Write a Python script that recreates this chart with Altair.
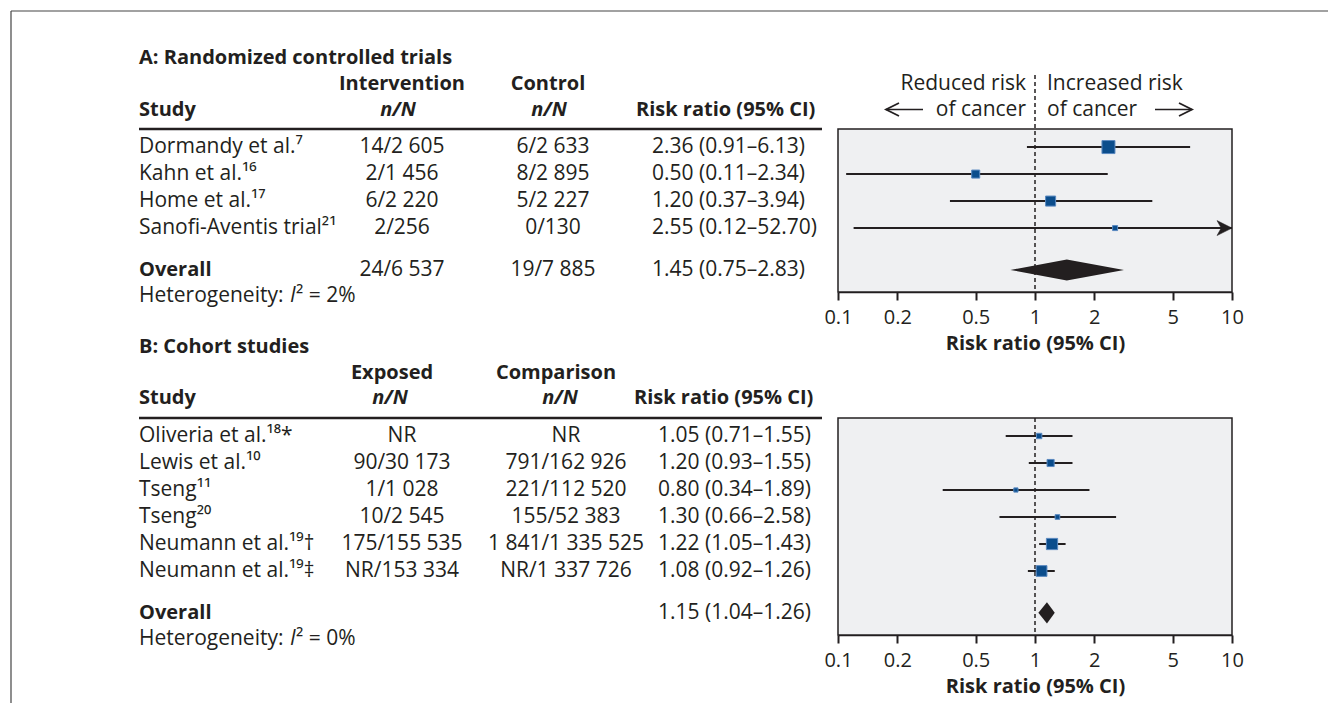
import altair as alt
import pandas as pd

# ---------------- data ----------------
rct_studies = ["Dormandy et al.⁷", "Kahn et al.¹⁶", "Home et al.¹⁷", "Sanofi-Aventis trial²¹"]
rct_intervention = ["14/2 605", "2/1 456", "6/2 220", "2/256"]
rct_control = ["6/2 633", "8/2 895", "5/2 227", "0/130"]
rct_rr = [2.36, 0.50, 1.20, 2.55]
rct_lo = [0.91, 0.11, 0.37, 0.12]
rct_hi = [6.13, 2.34, 3.94, 52.70]
rct_weight = [47, 18, 28, 7]
rct_overall_counts = ["24/6 537", "19/7 885"]
rct_overall = [1.45, 0.75, 2.83]
rct_i2 = "2%"

coh_studies = ["Oliveria et al.¹⁸*", "Lewis et al.¹⁰", "Tseng¹¹", "Tseng²⁰",
               "Neumann et al.¹⁹†", "Neumann et al.¹⁹‡"]
coh_exposed = ["NR", "90/30 173", "1/1 028", "10/2 545", "175/155 535", "NR/153 334"]
coh_comparison = ["NR", "791/162 926", "221/112 520", "155/52 383",
                  "1 841/1 335 525", "NR/1 337 726"]
coh_rr = [1.05, 1.20, 0.80, 1.30, 1.22, 1.08]
coh_lo = [0.71, 0.93, 0.34, 0.66, 1.05, 0.92]
coh_hi = [1.55, 1.55, 1.89, 2.58, 1.43, 1.26]
coh_weight = [8, 14, 5, 6, 35, 32]
coh_overall_counts = ["", ""]
coh_overall = [1.15, 1.04, 1.26]
coh_i2 = "0%"

axis_ticks = [0.1, 0.2, 0.5, 1, 2, 5, 10]
NULL_VALUE = 1

# ---------------- style / layout ----------------
FONT = "Open Sans"
TXT = "#231f20"
BLUE = "#0b4d8c"
BLUE_EDGE = "#5a89c0"
BOX_FILL = "#eff0f2"
FS = 20        # bold headings
FS_REG = 21    # regular body text
ROW_PX = 27
TITLE_OFF, H1_OFF, H2_OFF, LINE_OFF = -3.3, -2.35, -1.39, -0.67
OVERALL_GAP, HET_GAP, BOTTOM_GAP = 1.55, 0.95, 0.82
PANEL_GAP = 5.33
ROW_TOP = -5.15
DIAMOND_HALF = 0.39
W = 1320
X_RANGE = [830, 1224]
STUDY_X = 131
LINE_X2 = 814

A_rows = [float(i) for i in range(len(rct_studies))]
A_overall = A_rows[-1] + OVERALL_GAP
A_bottom = A_overall + BOTTOM_GAP
rB0 = A_bottom + PANEL_GAP
B_rows = [rB0 + i for i in range(len(coh_studies))]
B_overall = B_rows[-1] + OVERALL_GAP
B_bottom = B_overall + BOTTOM_GAP
H = round((B_bottom - ROW_TOP) * ROW_PX)

yscale = alt.Scale(domain=[ROW_TOP, B_bottom], reverse=True, nice=False, zero=False)


def Y(f="row"):
    return alt.Y(f + ":Q", scale=yscale, axis=None)


def Y2(f):
    return alt.Y2(f + ":Q")


def make_axis(offset=0):
    kw = dict(values=axis_ticks, format="~g", title="Risk ratio (95% CI)", orient="bottom",
              grid=False, domainColor=TXT, domainWidth=1.5, tickColor=TXT, tickWidth=2,
              tickSize=8, labelFont=FONT, labelFontSize=FS, labelColor=TXT, labelPadding=7,
              labelFlush=False, titleFont=FONT, titleFontSize=FS, titleFontWeight="bold",
              titleColor=TXT, titlePadding=6)
    if offset:
        kw["offset"] = offset
    return alt.Axis(**kw)


def XS(field, axis):
    return alt.X(field + ":Q",
                 scale=alt.Scale(type="log", domain=[axis_ticks[0], axis_ticks[-1]], range=X_RANGE),
                 axis=axis)


def text_layer(df, x, align="left", weight="normal", style="normal", dx=0, field="t", size=None):
    if size is None:
        size = FS if weight == "bold" else FS_REG
    return alt.Chart(df).mark_text(align=align, baseline="middle", font=FONT, fontSize=size,
                                   color=TXT, fontWeight=weight, fontStyle=style, dx=dx
                                   ).encode(x=x, y=Y(), text=field + ":N")


def one(t, row):
    return pd.DataFrame({"t": [t], "row": [row]})


def panel(title, hdr1, hdr2, studies, c1, c2, rr, lo, hi, wt, ov_counts, ov, i2,
          rows, r_over, r_bottom, axis, cols, annotate):
    r0 = rows[0]
    line_row = r0 + LINE_OFF
    df = pd.DataFrame({"row": rows, "study": studies, "c1": c1, "c2": c2, "rr": rr,
                       "lo": lo, "hi": hi, "w": wt})
    df["label"] = [f"{a:.2f} ({b:.2f}–{c:.2f})" for a, b, c in zip(rr, lo, hi)]
    df["hic"] = [min(h, axis_ticks[-1]) for h in hi]
    df["xe"] = axis_ticks[-1]

    layers = []
    # gray plot box
    box = pd.DataFrame({"x0": [axis_ticks[0]], "x1": [axis_ticks[-1]],
                        "y0": [line_row], "y1": [r_bottom]})
    layers.append(alt.Chart(box).mark_rect(fill=BOX_FILL, stroke=TXT, strokeWidth=1.5)
                  .encode(x=XS("x0", axis), x2="x1:Q", y=Y("y0"), y2=Y2("y1")))
    # dashed null line
    top = r0 + (-2.67 if annotate else LINE_OFF)
    nl = pd.DataFrame({"x": [NULL_VALUE], "y0": [top], "y1": [r_bottom]})
    layers.append(alt.Chart(nl).mark_rule(color=TXT, strokeWidth=1.5, strokeDash=[4, 3])
                  .encode(x=XS("x", axis), y=Y("y0"), y2=Y2("y1")))
    # CI lines
    layers.append(alt.Chart(df).mark_rule(color=TXT, strokeWidth=2)
                  .encode(x=XS("lo", axis), x2="hic:Q", y=Y()))
    # truncated CI arrow
    layers.append(alt.Chart(df).transform_filter(f"datum.hi > {axis_ticks[-1]}")
                  .mark_point(shape="M-1,-0.5L0,0L-1,0.5L-0.72,0Z", filled=True, fill=TXT,
                              stroke=TXT, strokeWidth=0.5, size=900, opacity=1)
                  .encode(x=XS("xe", axis), y=Y()))
    # squares
    layers.append(alt.Chart(df).mark_square(color=BLUE, stroke=BLUE_EDGE, strokeWidth=1, opacity=1)
                  .encode(x=XS("rr", axis), y=Y(),
                          size=alt.Size("w:Q", scale=alt.Scale(domain=[0, 50], range=[0, 180]),
                                        legend=None)))
    # diamond
    dm = pd.DataFrame({"x": [ov[1], ov[0], ov[2]],
                       "ya": [r_over, r_over - DIAMOND_HALF, r_over],
                       "yb": [r_over, r_over + DIAMOND_HALF, r_over]})
    layers.append(alt.Chart(dm).mark_area(color=TXT, orient="vertical", opacity=1)
                  .encode(x=XS("x", axis), y=Y("ya"), y2=Y2("yb")))

    # ---- table text ----
    layers.append(text_layer(one(title, r0 + TITLE_OFF), alt.value(STUDY_X), weight="bold"))
    layers.append(text_layer(one(hdr1, r0 + H1_OFF), alt.value(cols["c1h"]), "center", "bold"))
    layers.append(text_layer(one(hdr2, r0 + H1_OFF), alt.value(cols["c2h"]), "center", "bold"))
    layers.append(text_layer(one("Study", r0 + H2_OFF), alt.value(STUDY_X), weight="bold"))
    layers.append(text_layer(one("n/N", r0 + H2_OFF), alt.value(cols["c1n"]), "center", "bold", "italic"))
    layers.append(text_layer(one("n/N", r0 + H2_OFF), alt.value(cols["c2n"]), "center", "bold", "italic"))
    layers.append(text_layer(one("Risk ratio (95% CI)", r0 + H2_OFF), alt.value(cols["rrh"]), weight="bold"))
    hl = pd.DataFrame({"row": [line_row]})
    layers.append(alt.Chart(hl).mark_rule(color=TXT, strokeWidth=2.5)
                  .encode(x=alt.value(STUDY_X), x2=alt.value(LINE_X2), y=Y()))
    layers.append(text_layer(df, alt.value(STUDY_X), field="study"))
    layers.append(text_layer(df, alt.value(cols["c1v"]), "center", field="c1"))
    layers.append(text_layer(df, alt.value(cols["c2v"]), "center", field="c2"))
    layers.append(text_layer(df, alt.value(cols["rrv"]), field="label"))
    # overall row
    layers.append(text_layer(one("Overall", r_over), alt.value(STUDY_X), weight="bold"))
    if ov_counts[0]:
        layers.append(text_layer(one(ov_counts[0], r_over), alt.value(cols["c1v"]), "center"))
        layers.append(text_layer(one(ov_counts[1], r_over), alt.value(cols["c2v"]), "center"))
    layers.append(text_layer(one(f"{ov[0]:.2f} ({ov[1]:.2f}–{ov[2]:.2f})", r_over),
                             alt.value(cols["rrv"])))
    r_het = r_over + HET_GAP
    layers.append(text_layer(one("Heterogeneity:", r_het), alt.value(STUDY_X)))
    layers.append(text_layer(one("I", r_het), alt.value(STUDY_X + 151), style="italic"))
    layers.append(text_layer(one("² = " + i2, r_het), alt.value(STUDY_X + 157)))

    if annotate:
        ann = pd.DataFrame({"x": [NULL_VALUE, NULL_VALUE], "row": [r0 + H1_OFF, r0 + H2_OFF],
                            "t": ["Reduced risk", "of cancer"]})
        ann2 = pd.DataFrame({"x": [NULL_VALUE, NULL_VALUE], "row": [r0 + H1_OFF, r0 + H2_OFF],
                             "t": ["Increased risk", "of cancer"]})
        layers.append(text_layer(ann, XS("x", axis), "right", dx=-9))
        layers.append(text_layer(ann2, XS("x", axis), "left", dx=12))
        ar = pd.DataFrame({"row": [r0 + H2_OFF]})
        layers.append(alt.Chart(ar).mark_rule(color=TXT, strokeWidth=1.6)
                      .encode(x=alt.value(878), x2=alt.value(915), y=Y()))
        layers.append(alt.Chart(ar).mark_rule(color=TXT, strokeWidth=1.6)
                      .encode(x=alt.value(1147), x2=alt.value(1184), y=Y()))
        layers.append(alt.Chart(ar).mark_point(shape="M1,-0.5L0,0L1,0.5", filled=False, stroke=TXT,
                                               strokeWidth=1.8, size=676, opacity=1)
                      .encode(x=alt.value(878), y=Y()))
        layers.append(alt.Chart(ar).mark_point(shape="M-1,-0.5L0,0L-1,0.5", filled=False, stroke=TXT,
                                               strokeWidth=1.8, size=676, opacity=1)
                      .encode(x=alt.value(1184), y=Y()))
    return alt.layer(*layers)


cols_a = {"c1h": 394, "c1n": 390, "c1v": 394, "c2h": 540, "c2n": 541, "c2v": 545,
          "rrh": 628, "rrv": 644}
cols_b = {"c1h": 384, "c1n": 382, "c1v": 394, "c2h": 548, "c2n": 552, "c2v": 558,
          "rrh": 626, "rrv": 650}

A_axis_offset = -round((B_bottom - A_bottom) * ROW_PX)

panel_a = panel("A: Randomized controlled trials", "Intervention", "Control",
                rct_studies, rct_intervention, rct_control, rct_rr, rct_lo, rct_hi, rct_weight,
                rct_overall_counts, rct_overall, rct_i2, A_rows, A_overall, A_bottom,
                make_axis(A_axis_offset), cols_a, True)
panel_b = panel("B: Cohort studies", "Exposed", "Comparison",
                coh_studies, coh_exposed, coh_comparison, coh_rr, coh_lo, coh_hi, coh_weight,
                coh_overall_counts, coh_overall, coh_i2, B_rows, B_overall, B_bottom,
                make_axis(), cols_b, False)

frame = alt.Chart(pd.DataFrame({"k": [0]})).mark_rule(color="#444444", strokeWidth=1.2).encode(
    x=alt.value(3), x2=alt.value(W), y=alt.value(3))
frame_l = alt.Chart(pd.DataFrame({"k": [0]})).mark_rule(color="#444444", strokeWidth=1.2).encode(
    x=alt.value(3), y=alt.value(3), y2=alt.value(H + 68))

chart = alt.layer(panel_a, panel_b, frame, frame_l).resolve_scale(x="independent").properties(
    width=W, height=H, padding=0
).configure_view(stroke=None)

chart.save("out.html", embed_options={"renderer": "svg", "actions": False})
